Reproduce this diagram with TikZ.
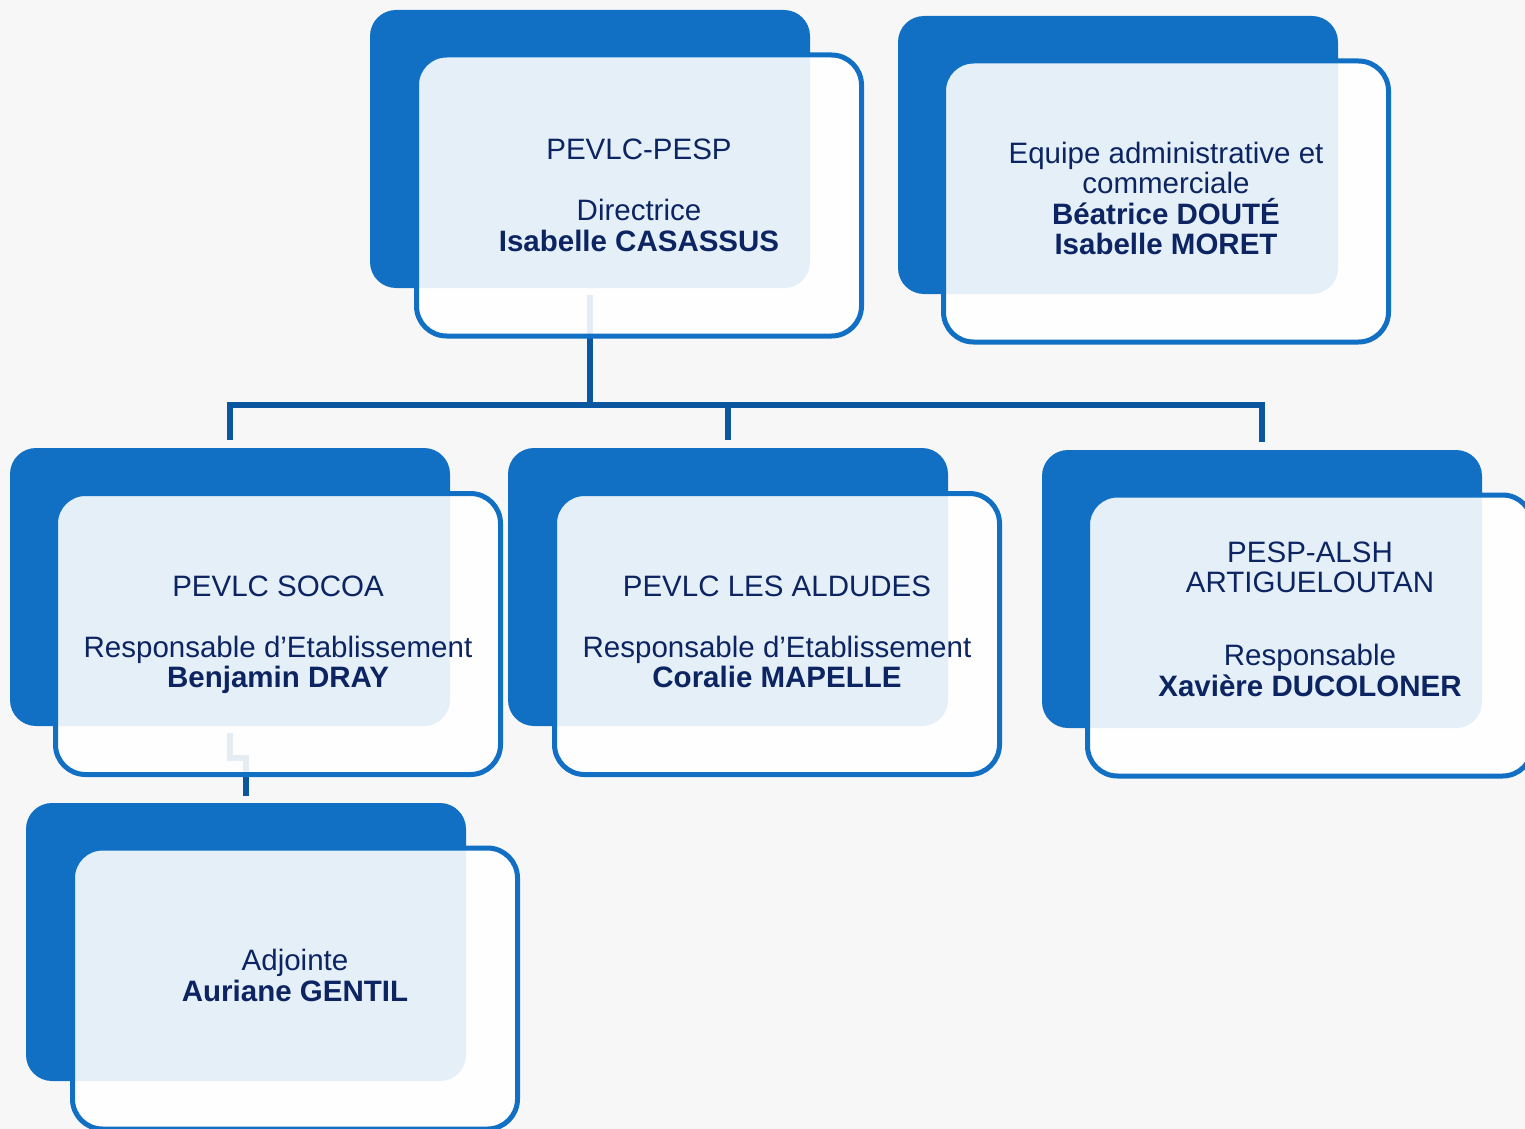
\documentclass[tikz,border=0pt]{standalone}
\usepackage{fontspec}
\setmainfont{Liberation Sans}
\usepackage{tikz}
\usetikzlibrary{positioning,calc}

\definecolor{boxblue}{HTML}{1170C4}
\definecolor{linkblue}{HTML}{0B579F}
\definecolor{inkblue}{HTML}{0C2461}
\definecolor{paper}{HTML}{F7F7F7}

\tikzset{
  backbox/.style={fill=boxblue, rounded corners=13pt, minimum width=220pt,
    minimum height=139pt, inner sep=0pt},
  frontbox/.style={draw=boxblue, line width=2.5pt, fill=white, fill opacity=0.89,
    rounded corners=15pt, minimum width=222.5pt, minimum height=140.5pt, inner sep=0pt},
  boxtext/.style={text=inkblue, align=center, inner sep=0pt,
    font=\fontsize{14.75}{15.25}\selectfont},
  link/.style={draw=linkblue, line width=3pt},
}

\begin{document}
\begin{tikzpicture}[x=0.5pt, y=-0.5pt]
      \useasboundingbox (0,0) rectangle (1525,1129);
      \fill[paper] (0,0) rectangle (1525,1129);

      % back boxes
      \node[backbox](dir) at (590,149){};
      \node[backbox](admin) at (1118,155){};
      \node[backbox](socoa) at (230,587){};
      \node[backbox](aldudes) at (728,587){};
      \node[backbox](artig) at (1262,589){};
      \node[backbox](adj) at (246,942){};

      % connectors
      \coordinate (hub) at ($(dir.south)+(0,117)$);
      \draw[link, shorten <=3.5pt] (dir.south) -- (hub);
      \draw[link, shorten <=4pt, shorten >=4pt] (socoa.north) |- (hub) -| (artig.north);
      \draw[link, shorten >=4pt] (hub -| aldudes.north) -- (aldudes.north);
      \draw[link, shorten <=3.5pt, shorten >=3.5pt] (socoa.south) -- ++(0,32) -| (adj.north);

      % front boxes
      \node[frontbox](dirF) at ($(dir)+(49,46.5)$){};
      \node[frontbox](adminF) at ($(admin)+(48,46.5)$){};
      \node[frontbox](socoaF) at ($(socoa)+(48,47)$){};
      \node[frontbox](aldudesF) at ($(aldudes)+(49,47)$){};
      \node[frontbox](artigF) at ($(artig)+(48,46.5)$){};
      \node[frontbox](adjF) at ($(adj)+(49,46.5)$){};

      % texts
      \node[boxtext](dirT) at (dirF){PEVLC-PESP\\[15.25pt]Directrice\\\textbf{Isabelle CASASSUS}};
      \node[boxtext](adminT) at ($(adminF)+(0,-3)$){Equipe administrative et\\commerciale\\\textbf{Béatrice DOUTÉ}\\\textbf{Isabelle MORET}};
      \node[boxtext](socoaT) at ($(socoaF)+(0,1)$){PEVLC SOCOA\\[15.25pt]Responsable d’Etablissement\\\textbf{Benjamin DRAY}};
      \node[boxtext](aldudesT) at ($(aldudesF)+(0,-2)$){PEVLC LES ALDUDES\\[15.25pt]Responsable d’Etablissement\\\textbf{Coralie MAPELLE}};
      \node[boxtext](artigT) at ($(artigF)+(0,-16.5)$){PESP-ALSH\\ARTIGUELOUTAN\\[21.25pt]Responsable\\\textbf{Xavière DUCOLONER}};
      \node[boxtext](adjT) at ($(adjF)+(0,-13)$){Adjointe\\\textbf{Auriane GENTIL}};

\end{tikzpicture}
\end{document}
